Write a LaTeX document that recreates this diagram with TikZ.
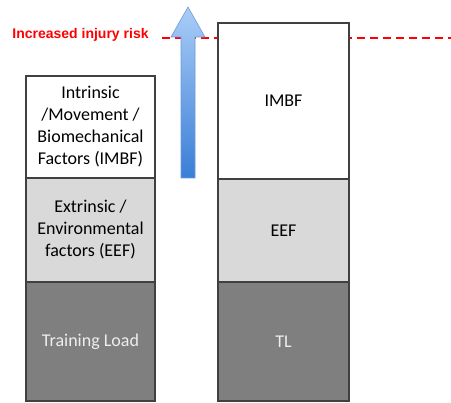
\documentclass[tikz,border=0pt]{standalone}
\usepackage{fontspec}
\setmainfont{Carlito}
\newfontfamily\riskfont{Liberation Sans}
\usetikzlibrary{positioning}
\newcommand\factorfont{\fontsize{18}{22}\selectfont}
\definecolor{boxline}{HTML}{404040}
\definecolor{eefgray}{HTML}{D9D9D9}
\definecolor{tlgray}{HTML}{7F7F7F}
\definecolor{tltext}{HTML}{EEEEEE}
\definecolor{arrowtop}{HTML}{AACDF7}
\definecolor{arrowbot}{HTML}{3A7ED6}
\definecolor{arrowline}{HTML}{6E9AD8}
\tikzset{
factor/.style={draw=boxline, line width=1.1pt, rectangle, inner sep=0pt,
  outer sep=0pt, align=center, font=\factorfont},
imbf/.style={factor, fill=white},
eef/.style={factor, fill=eefgray},
tl/.style={factor, fill=tlgray, text=tltext},
risk/.style={text=red, font=\riskfont\bfseries\fontsize{14}{16}\selectfont}
}

\begin{document}
\begin{tikzpicture}[x=1pt,y=-1pt]
\useasboundingbox (0,0) rectangle (451,403);
% threshold line
\node[risk] (riskText) at (80.5,35) {Increased injury risk};
\coordinate (riskEnd) at (451,38);
\draw[red, line width=1.8pt, dash pattern=on 8pt off 5pt]
  ([xshift=10pt]riskText.east |- riskEnd) -- (riskEnd);
% rising arrow
\shade[top color=arrowtop, bottom color=arrowbot, draw=arrowline, line width=0.6pt]
  (181,178) -- (181,37) -- (171,37) -- (188,7) -- (205,37) -- (195,37) -- (195,178) -- cycle;
% left column
\node[imbf, minimum width=129pt, minimum height=102pt] (imbfL) at (90.5,127)
  {Intrinsic\\/Movement /\\Biomechanical\\Factors (IMBF)};
\node[eef, minimum width=129pt, minimum height=104pt, below=0pt of imbfL] (eefL)
  {Extrinsic /\\Environmental\\factors (EEF)};
\node[tl, minimum width=129pt, minimum height=119pt, below=0pt of eefL] (tlL) {Training Load};
% right column
\node[imbf, minimum width=131pt, minimum height=156pt] (imbfR) at (283.5,101) {IMBF};
\node[eef, minimum width=131pt, minimum height=103pt, below=0pt of imbfR] (eefR) {EEF};
\node[tl, minimum width=131pt, minimum height=119pt, below=0pt of eefR] (tlR) {TL};
\end{tikzpicture}
\end{document}
